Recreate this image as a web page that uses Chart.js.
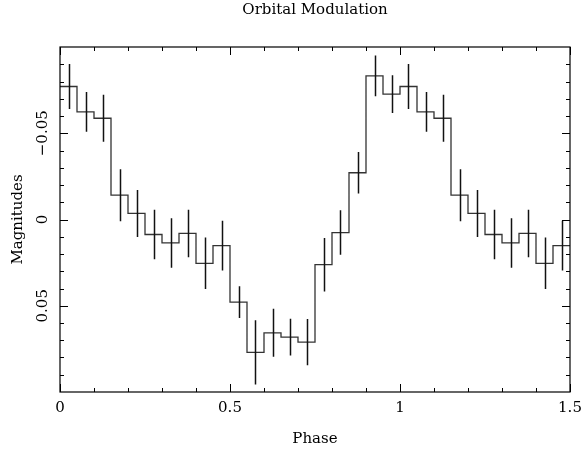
<!DOCTYPE html>
<html>
<head>
<meta charset="utf-8">
<script src="https://cdn.jsdelivr.net/npm/chart.js@4.4.0/dist/chart.umd.min.js"></script>
<style>
  html, body { margin: 0; padding: 0; background: #fff; }
  #wrap { width: 584px; height: 455px; position: relative; }
</style>
</head>
<body>
<div id="wrap"><canvas id="c" width="584" height="455"></canvas></div>
<script>
// ---- data ----
const titleText = "Orbital Modulation";
const xLabel = "Phase";
const yLabel = "Magnitudes";
const phase = [0.025, 0.075, 0.125, 0.175, 0.225, 0.275, 0.325, 0.375, 0.425, 0.475,
               0.525, 0.575, 0.625, 0.675, 0.725, 0.775, 0.825, 0.875, 0.925, 0.975,
               1.025, 1.075, 1.125, 1.175, 1.225, 1.275, 1.325, 1.375, 1.425, 1.475];
const magnitude = [-0.0771, -0.0624, -0.0587, -0.0141, -0.0035, 0.0087, 0.0136, 0.0081, 0.0254, 0.0151,
                   0.0479, 0.0770, 0.0657, 0.0682, 0.0711, 0.0262, 0.0076, -0.0271, -0.0833, -0.0727,
                   -0.0771, -0.0624, -0.0587, -0.0141, -0.0035, 0.0087, 0.0136, 0.0081, 0.0254, 0.0151];
const magError = [0.0130, 0.0115, 0.0136, 0.0151, 0.0136, 0.0143, 0.0143, 0.0138, 0.0149, 0.0144,
                  0.0092, 0.0186, 0.0139, 0.0106, 0.0134, 0.0155, 0.0129, 0.0120, 0.0118, 0.0109,
                  0.0130, 0.0115, 0.0136, 0.0151, 0.0136, 0.0143, 0.0143, 0.0138, 0.0149, 0.0144];
const xTickLabels = ["0", "0.5", "1", "1.5"];
const xMajorTicks = [0, 0.5, 1, 1.5];
const xMinorTicks = [0.1, 0.2, 0.3, 0.4, 0.6, 0.7, 0.8, 0.9, 1.1, 1.2, 1.3, 1.4];
const yTickLabels = ["\u22120.05", "0", "0.05"];
const yMajorTicks = [-0.05, 0, 0.05];
const yMinorTicks = [-0.09, -0.08, -0.07, -0.06, -0.04, -0.03, -0.02, -0.01,
                     0.01, 0.02, 0.03, 0.04, 0.06, 0.07, 0.08, 0.09];
const xRange = [0, 1.5];
const yRange = [-0.1, 0.1];

// step outline built from the bins (left edges + closing point)
const half = (phase[1] - phase[0]) / 2;
const stepData = phase.map((p, i) => ({ x: p - half, y: magnitude[i] }));
stepData.push({ x: phase[phase.length - 1] + half, y: magnitude[magnitude.length - 1] });

const FONT = '"DejaVu Serif", "Liberation Serif", serif';

const decor = {
  id: 'decor',
  afterDatasetsDraw(chart) {
    const ctx = chart.ctx;
    const xs = chart.scales.x, ys = chart.scales.y;
    const a = chart.chartArea;
    ctx.save();
    // error bars
    ctx.strokeStyle = '#111';
    ctx.lineWidth = 1.5;
    ctx.beginPath();
    phase.forEach((p, i) => {
      const px = Math.round(xs.getPixelForValue(p)) + 0.5;
      ctx.moveTo(px, ys.getPixelForValue(magnitude[i] - magError[i]));
      ctx.lineTo(px, ys.getPixelForValue(magnitude[i] + magError[i]));
    });
    ctx.stroke();
    // frame
    ctx.strokeStyle = '#000';
    ctx.lineWidth = 1.2;
    ctx.strokeRect(a.left, a.top, a.right - a.left, a.bottom - a.top);
    // ticks
    ctx.lineWidth = 1;
    ctx.beginPath();
    const xt = (v, len) => {
      const px = Math.round(xs.getPixelForValue(v)) + 0.5;
      ctx.moveTo(px, a.bottom); ctx.lineTo(px, a.bottom - len);
      ctx.moveTo(px, a.top); ctx.lineTo(px, a.top + len);
    };
    const yt = (v, len) => {
      const py = Math.round(ys.getPixelForValue(v)) + 0.5;
      ctx.moveTo(a.left, py); ctx.lineTo(a.left + len, py);
      ctx.moveTo(a.right, py); ctx.lineTo(a.right - len, py);
    };
    xMajorTicks.forEach(v => xt(v, 8));
    xMinorTicks.forEach(v => xt(v, 4));
    yMajorTicks.forEach(v => yt(v, 8));
    yMinorTicks.forEach(v => yt(v, 4));
    ctx.stroke();
    // text
    ctx.fillStyle = '#000';
    ctx.font = '15px ' + FONT;
    ctx.textAlign = 'center';
    ctx.textBaseline = 'middle';
    ctx.fillText(titleText, (a.left + a.right) / 2, 10);
    xMajorTicks.forEach((v, i) => ctx.fillText(xTickLabels[i], xs.getPixelForValue(v), 408));
    ctx.fillText(xLabel, (a.left + a.right) / 2, 439);
    yMajorTicks.forEach((v, i) => {
      ctx.save();
      ctx.translate(43, ys.getPixelForValue(v));
      ctx.rotate(-Math.PI / 2);
      ctx.fillText(yTickLabels[i], 0, 0);
      ctx.restore();
    });
    ctx.save();
    ctx.translate(18, (a.top + a.bottom) / 2);
    ctx.rotate(-Math.PI / 2);
    ctx.fillText(yLabel, 0, 0);
    ctx.restore();
    ctx.restore();
  }
};

new Chart(document.getElementById('c'), {
  type: 'line',
  data: {
    datasets: [{
      data: stepData,
      stepped: 'before',
      borderColor: '#333',
      borderWidth: 1.3,
      pointRadius: 0,
      fill: false,
      tension: 0
    }]
  },
  options: {
    responsive: false,
    animation: false,
    devicePixelRatio: 1,
    layout: { padding: { left: 60, right: 14, top: 47, bottom: 63 } },
    plugins: { legend: { display: false }, title: { display: false }, tooltip: { enabled: false } },
    scales: {
      x: { type: 'linear', min: xRange[0], max: xRange[1], display: false },
      y: { type: 'linear', min: yRange[0], max: yRange[1], reverse: true, display: false }
    }
  },
  plugins: [decor]
});
</script>
</body>
</html>
